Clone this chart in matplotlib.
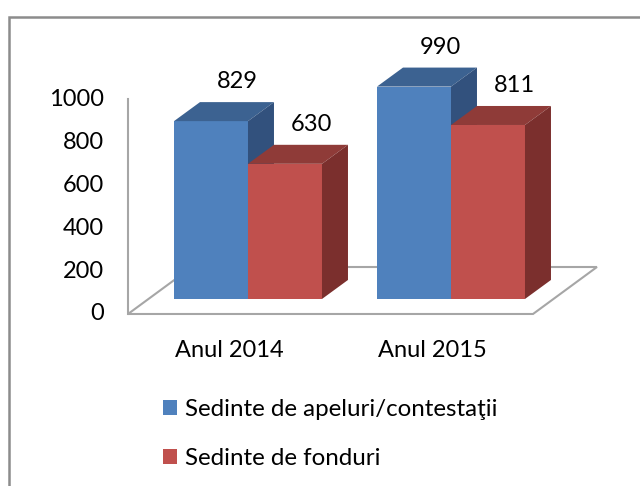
import matplotlib.pyplot as plt
from matplotlib.patches import Polygon, Rectangle

# data
categories = ['Anul 2014', 'Anul 2015']
apeluri = [829, 990]
fonduri = [630, 811]
series_names = ['Sedinte de apeluri/contestaţii', 'Sedinte de fonduri']
yticks = [0, 200, 400, 600, 800, 1000]

# Excel-like colours: front, top, side
COLORS = [('#4F81BD', '#3C6291', '#32517D'),
          ('#C0504D', '#8F3B38', '#7B2F2D')]

plt.rcParams['font.family'] = ['Lato', 'DejaVu Sans']
FS = 17

fig = plt.figure(figsize=(6.4, 4.86), dpi=100)
ax = fig.add_axes([0.1496, 0.3142, 0.8247, 0.5562])
ax.set_xlim(-0.75, 1.85)
ax.set_ylim(-160, 1100)
ax.axis('off')

# chart border (cut off on right and bottom like the screenshot)
fig.patches.append(Rectangle((9 / 640, -0.2), 1.2, 1.2 - 17 / 486,
                             transform=fig.transFigure, fill=False,
                             edgecolor='#8c8c8c', linewidth=1.8))

W = 0.3645           # bar width (category units)
DX, DY = 0.128, 88.6  # bar depth offset
FX0, FX1, FZ = -0.591, 1.404, -70   # floor front edge
FDX, FDY = 0.315, 219               # floor depth

# floor and vertical axis
floor = [(FX0, FZ), (FX1, FZ), (FX1 + FDX, FZ + FDY), (FX0 + FDX, FZ + FDY)]
ax.add_patch(Polygon(floor, closed=True, facecolor='white',
                     edgecolor='#a6a6a6', linewidth=1.5, zorder=1))
ax.plot([FX0, FX0], [FZ, FZ + yticks[-1]], color='#a6a6a6', lw=1.5, zorder=1)

for t in yticks:
    ax.text(FX0 - 0.12, t + FZ, str(t), ha='right', va='center', fontsize=FS)

for i, cat in enumerate(categories):
    ax.text(i - 0.094, -242, cat, ha='center', va='center', fontsize=FS)

z = 2
handles = []
for i in range(len(categories)):
    for s, vals in enumerate([apeluri, fonduri]):
        v = vals[i]
        front, top, side = COLORS[s]
        left = i - W + s * W
        b = ax.bar(left, v, width=W, align='edge', color=front,
                   linewidth=0, zorder=z)
        if i == 0:
            handles.append(b)
        ax.add_patch(Polygon([(left, v), (left + W, v), (left + W + DX, v + DY),
                              (left + DX, v + DY)], closed=True,
                             facecolor=top, linewidth=0, zorder=z))
        ax.add_patch(Polygon([(left + W, 0), (left + W + DX, DY),
                              (left + W + DX, v + DY), (left + W, v)],
                             closed=True, facecolor=side, linewidth=0, zorder=z))
        ax.text(left + W / 2 + DX, v + DY + 95, str(v), ha='center',
                va='center', fontsize=FS, zorder=10)
        z += 1

fig.legend(handles, series_names, loc='upper left',
           bbox_to_anchor=(163 / 640, 1 - 399 / 486), frameon=False,
           fontsize=FS + 0.4, handlelength=0.59, handleheight=0.57,
           handletextpad=0.34, labelspacing=1.15, borderpad=0,
           borderaxespad=0)

fig.savefig('out.png', dpi=100, facecolor='white')
